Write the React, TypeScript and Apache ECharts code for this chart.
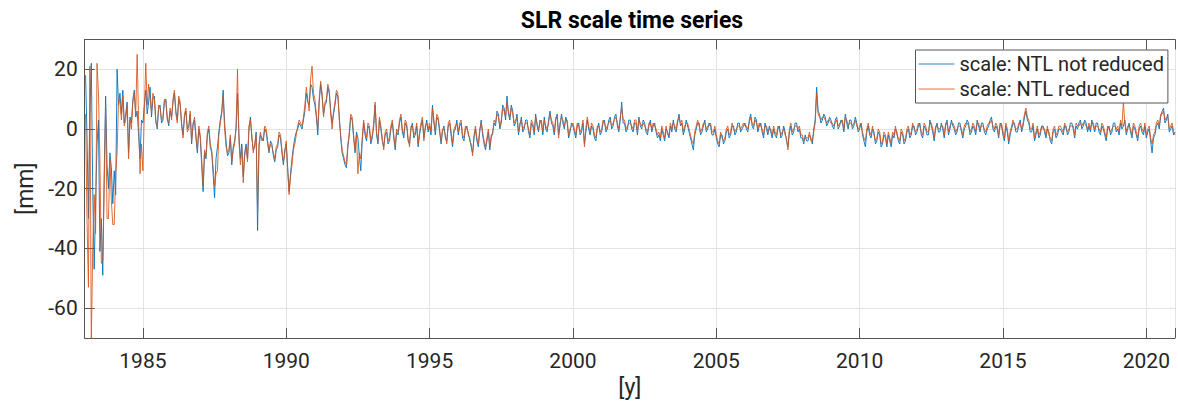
import React, { useEffect, useRef } from "react";
import * as echarts from "echarts";

// ---- axis settings ----
const X_MIN = 1982.97;
const X_MAX = 2021.0;
const Y_MIN = -70;
const Y_MAX = 30;
const X_TICK_STEP = 5;
const Y_TICK_STEP = 20;

// ---- sampling of the series (one value every 0.05 year from 1983.0) ----
const START_YEAR = 1983.0;
const STEP_YEARS = 0.05;

const SERIES_NAMES = ["scale: NTL not reduced", "scale: NTL reduced"];

// scale: NTL not reduced [mm] (one row per year, 1983 ... 2020, then 2021.0)
const notReduced = [
  18, -2, -30, 5, 22, -20, -47, -25, -5, 3, -41, -30, -49, -15, 11, -12, -20, -8, -13, -25,
  -14, -22, 20, 8, 12, 5, 13, 2, 5, 9, -8, 4, 2, 10, 13, 4, 6, -2, -10, 3,
  2, 8, 13, 5, 9, 14, 4, 10, 11, 3, 0, 7, 8, 2, 3, 9, 10, 4, 1, 6,
  4, 9, 12, 6, 3, 10, 8, 2, -2, 4, 6, 0, 1, 5, -5, 2, 3, -3, -8, 0,
  -3, -12, -21, -8, -10, -2, 0, -6, -8, -15, -23, -10, -6, -1, 3, 6, 13, 2, -4, -9,
  -8, -3, -12, -6, -4, 0, 12, -2, -10, -5, -16, -8, -5, -10, 0, 4, -3, -7, -6, -1,
  -34, -6, -2, -3, -4, 0, -1, -5, -8, -4, -5, -9, -11, -7, -6, -2, -3, -8, -12, -7,
  -5, -13, -21, -15, -10, -6, -3, -1, 0, 2, 1, 0, 3, 6, 12, 9, 8, 15, 14, 10,
  8, 4, -2, 9, 15, 11, 5, 8, 9, 14, 12, 6, 2, 5, 8, 12, 11, 4, -3, -8,
  -10, -12, -13, -6, -2, 4, 3, -3, -8, -1, -3, -9, -14, -4, 2, -2, -4, 1, 0, -5,
  -3, 1, 8, -2, -5, 3, 0, -4, -6, -2, -1, -5, -4, 0, 2, -3, -7, -1, -2, 2,
  4, -1, -3, 2, 1, -4, -5, 0, 2, -3, -2, 1, -6, -2, 1, 3, -3, 0, 3, -1,
  1, -2, 8, 2, -2, 4, 3, -1, -5, -1, 1, -3, -4, 1, 2, -2, -6, -1, 0, 3,
  -2, 1, 2, -3, -4, 0, 1, -2, -3, -6, -8, -3, 0, -4, -6, -1, 3, -2, -5, -7,
  -4, -1, -7, -3, -1, 2, 1, 6, 5, 0, 2, 8, 7, 3, 11, 5, 3, 8, 6, 1,
  2, 5, -2, 1, 4, -1, 0, 3, 3, -1, -3, 2, 1, -2, 5, 1, -1, 3, 2, -2,
  4, 0, -1, 3, 6, 2, 1, -2, 3, 5, -2, 1, 5, 2, 0, 4, 2, -3, -1, 2,
  1, -1, -3, 1, 2, -2, -1, 2, -5, -1, 3, 0, -2, 1, 0, -3, -4, 0, 2, -2,
  -1, 2, 3, -1, 0, 3, 4, 0, 1, 4, 5, 1, -1, 3, 9, 2, 2, -1, 0, 3,
  3, 0, -1, 2, 2, -2, 4, 1, 0, 3, 2, -1, -2, 1, 3, -1, 1, 2, -1, -3,
  -2, -4, 0, -2, -4, 0, -1, -3, 1, -1, 3, 0, -1, 2, 5, 1, 2, -2, 0, 3,
  1, -1, -3, -5, -7, -2, 0, 2, 2, -2, -1, 1, 3, -1, 0, 2, 1, -2, -2, 0,
  -3, -5, -6, -2, -2, -5, -4, -1, 0, -3, -2, 1, 1, -2, -1, 2, 2, -1, 0, 1,
  2, 0, -1, 3, 5, 1, 0, 4, 3, -1, 1, 2, -1, -3, 2, 0, -2, 1, -1, -3,
  0, -2, -3, 0, 1, -3, -2, 1, -1, -4, -6, -1, 1, -2, -1, 2, 2, -1, 0, -3,
  -3, -5, -2, -4, -4, -2, -3, -5, 0, 3, 14, 6, 5, 2, 3, 5, 4, 1, 2, 4,
  3, 1, 0, 3, 4, 0, 1, 3, 2, -1, 5, 2, 0, 3, 3, 0, 1, 4, 2, -1,
  0, 2, -2, -4, -6, -1, 1, -2, -3, 0, -1, -5, -4, -1, -2, -6, -5, -2, -3, -6,
  -2, -4, -6, -2, -3, 0, -1, -4, -5, -1, -2, -5, -4, -1, 0, -3, -2, 1, 1, -2,
  -1, 1, 2, -2, -3, 1, 0, -2, -2, 3, 1, -1, -4, 0, 2, -1, -1, 2, 0, -3,
  1, 3, -2, 0, 3, 1, 0, -2, -1, 2, 2, -1, -3, 0, 1, 3, 2, -2, -1, 1,
  0, -2, 3, 1, -1, 2, 2, -1, -2, 0, 1, 3, 4, 0, -1, 1, 0, -3, 2, 1,
  -2, -4, 1, -1, -5, -2, 0, 2, 2, -1, -1, 1, 3, -1, 1, 4, 6, 3, 2, -1,
  -1, 1, -4, -2, 0, -3, -2, 1, 1, -1, -3, 0, -1, -4, -5, -1, 0, -3, -2, 0,
  0, -1, -2, 1, 1, -2, -1, 2, 2, 0, -3, 1, 0, 2, 3, 0, 1, 3, 2, -1,
  1, -1, 3, 1, -1, 2, 2, -1, -2, 1, 0, -2, -4, 0, 1, -2, -1, 2, 2, -1,
  0, -2, 2, 0, 1, 3, -2, 0, 2, -1, -3, 1, 0, -2, -4, 0, 1, -1, -2, 1,
  -3, -1, 0, -4, -8, -3, -2, 1, 2, 0, 4, 6, 7, 2, 3, 5, -1, 0, 1, -2,
  -1,
];

// scale: NTL reduced [mm]
const reduced = [
  5, -30, -53, 21, -72, -40, -22, -35, 22, 12, -10, -45, -44, -20, 8, -30, -30, -10, -24, -32,
  -32, -15, -8, 10, 9, 3, 11, 1, 3, 8, -10, 3, 0, 9, 12, 5, 25, 3, -15, -5,
  -14, 6, 22, 8, 15, 10, 6, 12, 10, 2, 1, 8, 7, 3, 4, 10, 9, 3, 2, 7,
  3, 10, 13, 5, 2, 11, 9, 1, -3, 5, 7, -1, 0, 6, -4, 1, 4, -2, -7, 1,
  -2, -10, -19, -7, -9, -1, 1, -5, -7, -13, -19, -15, -14, -2, 2, 5, 11, 0, -6, -8,
  -7, -2, -11, -7, -5, 1, 20, -4, -12, -6, -18, -9, -6, -11, 1, 3, -2, -8, -5, -2,
  -27, -5, -1, -4, -3, 1, 0, -4, -7, -5, -6, -8, -10, -6, -5, -1, -2, -7, -11, -8,
  -4, -14, -22, -16, -12, -7, -5, -2, 1, 3, 2, 1, 4, 8, 14, 10, 6, 17, 21, 12,
  10, 5, 0, 10, 16, 12, 4, 9, 10, 15, 13, 5, 0, 6, 9, 13, 12, 3, -2, -7,
  -9, -11, -12, -5, -1, 5, 4, -2, -7, -2, -15, -8, -10, -3, 3, -1, -3, 2, 1, -4,
  -2, 2, 9, -1, -4, 4, 1, -3, -7, -1, 0, -4, -3, 1, 3, -2, -6, 0, -1, 3,
  5, 0, -2, 3, 2, -3, -6, 1, 1, -2, -1, 2, -5, -1, 2, 4, -4, 1, 2, 0,
  2, -1, 7, 3, -1, 5, 4, 0, -4, 0, 0, -2, -5, 2, 3, -1, -5, 0, 1, 2,
  -1, 2, 3, -2, -3, 1, 0, -1, -4, -5, -9, -2, 1, -3, -5, 0, 2, -1, -4, -6,
  -3, 0, -6, -2, -2, 3, 2, 5, 4, 1, 3, 7, 6, 4, 9, 6, 4, 7, 5, 2,
  3, 4, -1, 2, 3, 0, 1, 2, 2, 0, -2, 3, 2, -1, 4, 2, 0, 2, 3, -1,
  3, 1, 0, 2, 5, 3, 2, -1, 4, 4, -3, 2, 4, 3, 1, 3, 3, -2, 0, 1,
  2, 0, -2, 2, 1, -1, 0, 3, -6, 0, 4, 1, -1, 2, 1, -2, -3, 1, 1, -1,
  0, 3, 2, 0, 1, 2, 3, 1, 2, 3, 4, 2, 0, 4, 7, 3, 3, 0, 1, 2,
  2, 1, 0, 3, 3, -1, 3, 2, 1, 2, 1, 0, -1, 2, 2, 0, 2, 1, 0, -2,
  -1, -3, 1, -1, -3, 1, -2, -2, 2, 0, 2, 1, 0, 3, 4, 2, 3, -1, 1, 2,
  2, 0, -2, -4, -5, -1, 1, 3, 1, -1, 0, 2, 2, 0, 1, 1, 2, -1, -1, 1,
  -2, -4, -5, -1, -3, -4, -3, 0, 1, -2, -1, 2, 0, -1, 0, 1, 1, 0, 1, 2,
  1, 1, 0, 2, 4, 2, 1, 3, 2, 0, 2, 1, 0, -2, 1, 1, -1, 0, 0, -2,
  1, -1, -2, 1, 0, -2, -1, 0, -2, -3, -7, 0, 2, -1, 0, 1, 1, 0, 1, -2,
  -2, -4, -3, -3, -3, -1, -4, -4, -1, 2, 12, 5, 4, 3, 4, 4, 3, 2, 3, 3,
  2, 2, 1, 2, 3, 1, 2, 2, 3, 0, 4, 3, 1, 2, 2, 1, 2, 3, 1, 0,
  1, 2, -1, -3, -4, 0, 2, -1, -2, 1, -2, -4, -3, 0, -1, -5, -4, -1, -2, -5,
  -1, -3, -5, -1, -2, 1, -2, -3, -4, 0, -1, -4, -3, 0, 1, -2, -1, 2, 0, -1,
  0, 2, 1, -1, -2, 2, 1, -1, -1, 2, 2, 0, -3, 1, 1, 0, 0, 1, 1, -2,
  2, 2, -1, 1, 2, 2, 1, -1, 0, 1, 1, 0, -2, 1, 2, 2, 1, -1, 0, 2,
  1, -1, 2, 2, 0, 1, 1, 0, -1, 1, 2, 2, 3, 1, 0, 2, 1, -2, 1, 2,
  -1, -3, 2, 0, -4, -1, 1, 3, 1, 0, 0, 2, 2, 0, 2, 5, 7, 4, 3, 0,
  0, 2, -3, -1, 1, -2, -1, 1, 0, 0, -2, 1, -2, -3, -4, 0, 1, -2, -1, 1,
  1, 0, -1, 2, 0, -1, 0, 1, 1, 1, -2, 2, 1, 1, 2, 1, 2, 2, 1, 0,
  2, 0, 2, 2, 0, 1, 1, 0, -1, 2, 1, -1, -3, 1, 0, -1, 0, 1, 1, 0,
  1, -1, 3, 1, 9, 2, -1, 1, 1, 0, -2, 2, 1, -1, -3, 1, 2, 0, -1, 2,
  -2, 0, 1, -3, -5, -2, -1, 2, 3, 1, 5, 5, 6, 3, 4, 4, 0, 1, 2, -1,
  -2,
];

const BLUE = "#0072BD";
const ORANGE = "#D95319";
const BLUE_LIGHT = "#73b1d9";
const ORANGE_LIGHT = "#eaa081";
const AXIS_COLOR = "#555555";
const GRID_COLOR = "#e3e3e3";
const TEXT_COLOR = "#262626";
const FONT = "Roboto";

const toPairs = (vals: number[]) =>
  vals.map((v, i) => [Number((START_YEAR + i * STEP_YEARS).toFixed(3)), v]);

const isMultiple = (v: number, step: number) =>
  Math.abs(v - Math.round(v)) < 1e-6 && Math.round(v) % step === 0;

export default function App() {
  const ref = useRef<HTMLDivElement>(null);

  useEffect(() => {
    const chart = echarts.init(ref.current!, null, { renderer: "svg" });
    const grid = { left: 84.7, top: 39.4, width: 1093.3, height: 298.6 };

    const baseX = {
      type: "value" as const,
      min: X_MIN,
      max: X_MAX,
      minInterval: X_TICK_STEP,
      maxInterval: X_TICK_STEP,
    };

    chart.setOption({
      animation: false,
      backgroundColor: "#ffffff",
      textStyle: { fontFamily: FONT },
      grid,
      graphic: [
        {
          type: "text",
          x: 632,
          y: 20,
          style: {
            text: "SLR scale time series",
            fill: "#000000",
            fontSize: 23,
            fontWeight: "bold",
            fontFamily: FONT,
            align: "center",
            verticalAlign: "middle",
          },
          z: 100,
        },
      ],
      legend: {
        orient: "vertical",
        left: 915.5,
        top: 50,
        padding: [4, 4, 4, 3],
        itemGap: 5,
        itemWidth: 36,
        itemHeight: 20,
        selectedMode: false,
        backgroundColor: "#ffffff",
        borderColor: AXIS_COLOR,
        borderWidth: 1,
        borderRadius: 0,
        textStyle: { fontSize: 20, color: TEXT_COLOR, fontFamily: FONT },
        data: [
          {
            name: SERIES_NAMES[0],
            icon: "path://M0,9.3 L36,9.3 L36,10.7 L0,10.7 Z M0,0 L0.01,0 M0,20 L0.01,20",
            itemStyle: { color: BLUE_LIGHT },
          },
          {
            name: SERIES_NAMES[1],
            icon: "path://M0,9.3 L36,9.3 L36,10.7 L0,10.7 Z M0,0 L0.01,0 M0,20 L0.01,20",
            itemStyle: { color: ORANGE_LIGHT },
          },
        ],
        z: 10,
      },
      xAxis: [
        {
          ...baseX,
          position: "bottom",
          axisLine: { show: true, onZero: false, lineStyle: { color: AXIS_COLOR, width: 1 } },
          axisTick: { show: true, inside: true, length: 10, lineStyle: { color: AXIS_COLOR } },
          axisLabel: {
            show: true,
            fontSize: 21,
            color: TEXT_COLOR,
            fontFamily: FONT,
            margin: 12,
            formatter: (v: number) => (isMultiple(v, X_TICK_STEP) ? String(Math.round(v)) : ""),
          },
          splitLine: { show: true, lineStyle: { color: GRID_COLOR, width: 1 } },
          name: "[y]",
          nameLocation: "middle",
          nameGap: 38,
          nameTextStyle: { fontSize: 23, color: TEXT_COLOR, fontFamily: FONT },
        },
        {
          ...baseX,
          position: "top",
          axisLine: { show: true, onZero: false, lineStyle: { color: AXIS_COLOR, width: 1 } },
          axisTick: { show: true, inside: true, length: 10, lineStyle: { color: AXIS_COLOR } },
          axisLabel: { show: false },
          splitLine: { show: false },
        },
      ],
      yAxis: {
        type: "value",
        min: Y_MIN,
        max: Y_MAX,
        minInterval: Y_TICK_STEP,
        maxInterval: Y_TICK_STEP,
        axisLine: { show: true, onZero: false, lineStyle: { color: AXIS_COLOR, width: 1 } },
        axisTick: { show: true, inside: true, length: 10, lineStyle: { color: AXIS_COLOR } },
        axisLabel: {
          show: true,
          fontSize: 21,
          color: TEXT_COLOR,
          fontFamily: FONT,
          margin: 7,
          formatter: (v: number) =>
            isMultiple(v, Y_TICK_STEP) && v > Y_MIN && v < Y_MAX ? String(Math.round(v)) : "",
        },
        splitLine: { show: true, lineStyle: { color: GRID_COLOR, width: 1 } },
        name: "[mm]",
        nameLocation: "middle",
        nameGap: 44,
        nameTextStyle: { fontSize: 23, color: TEXT_COLOR, fontFamily: FONT },
      },
      series: [
        {
          name: SERIES_NAMES[0],
          type: "line",
          xAxisIndex: 0,
          data: toPairs(notReduced),
          symbol: "none",
          showSymbol: false,
          clip: true,
          lineStyle: { color: BLUE, width: 1, opacity: 0.9 },
          itemStyle: { color: BLUE },
          emphasis: { disabled: true },
          z: 2,
        },
        {
          name: SERIES_NAMES[1],
          type: "line",
          xAxisIndex: 0,
          data: toPairs(reduced),
          symbol: "none",
          showSymbol: false,
          clip: true,
          lineStyle: { color: ORANGE, width: 1, opacity: 0.85 },
          itemStyle: { color: ORANGE },
          emphasis: { disabled: true },
          z: 3,
        },
      ],
    });

    return () => chart.dispose();
  }, []);

  return (
    <div
      ref={ref}
      style={{ position: "fixed", left: 0, top: 0, width: 1178, height: 404, background: "#ffffff" }}
    />
  );
}
